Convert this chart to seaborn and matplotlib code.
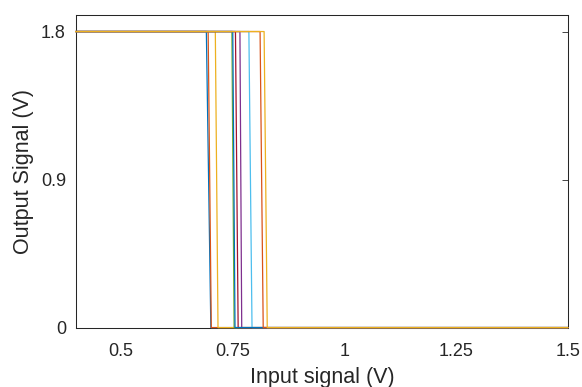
import matplotlib
matplotlib.use("Agg")
import matplotlib.pyplot as plt
import seaborn as sns
import pandas as pd

# sweep range of the input (V) and output levels (V)
sweep = [0.4, 1.5]
v_high = 1.8
v_low = 0.0

# input voltage where each curve starts / finishes switching
drop_start = [0.692, 0.696, 0.712, 0.767, 0.749, 0.787, 0.757, 0.751, 0.812, 0.821]
drop_end = [0.702, 0.703, 0.718, 0.771, 0.754, 0.794, 0.763, 0.756, 0.819, 0.828]

# MATLAB default colour order
matlab_colors = ["#0072BD", "#D95319", "#EDB120", "#7E2F8E", "#77AC30",
                 "#4DBEEE", "#A2142F"]

x_ticks = [0.5, 0.75, 1, 1.25, 1.5]
x_ticklabels = ["0.5", "0.75", "1", "1.25", "1.5"]
y_ticks = [0, 0.9, 1.8]
y_ticklabels = ["0", "0.9", "1.8"]

rows = []
for i, (s, e) in enumerate(zip(drop_start, drop_end)):
    xs = [sweep[0], s, e, sweep[1]]
    ys = [v_high, v_high, v_low, v_low]
    for k, (xv, yv) in enumerate(zip(xs, ys)):
        rows.append({"curve": i, "order": k, "vin": xv, "vout": yv})
df = pd.DataFrame(rows)

sns.set_theme(style="white")
plt.rcParams["font.family"] = ["Liberation Sans", "DejaVu Sans"]
ink = "#262626"

fig = plt.figure(figsize=(5.82, 3.87), dpi=100)
ax = fig.add_axes([0.130, 0.1535, 0.846, 0.8075])

for i in range(len(drop_start)):
    sub = df[df["curve"] == i]
    sns.lineplot(data=sub, x="vin", y="vout", sort=False, estimator=None,
                 color=matlab_colors[i % len(matlab_colors)], linewidth=0.9,
                 ax=ax, clip_on=False, zorder=3)

ax.set_xlim(0.4, 1.5)
ax.set_ylim(0, 1.9)
ax.set_xticks(x_ticks)
ax.set_xticklabels(x_ticklabels)
ax.set_yticks(y_ticks)
ax.set_yticklabels(y_ticklabels)

for sp in ax.spines.values():
    sp.set_visible(True)
    sp.set_color(ink)
    sp.set_linewidth(0.75)
    sp.set_zorder(2)

ax.tick_params(axis="both", direction="in", length=4, width=0.6, color=ink,
               labelsize=13, labelcolor=ink, top=False, right=True)
ax.tick_params(axis="x", pad=11)
ax.tick_params(axis="y", pad=7)
ax.grid(False)

ax.set_xlabel("Input signal (V)", fontsize=15.5, color=ink, labelpad=5)
ax.set_ylabel("Output Signal (V)", fontsize=15.5, color=ink, labelpad=5)

fig.savefig("out.png", dpi=100)
